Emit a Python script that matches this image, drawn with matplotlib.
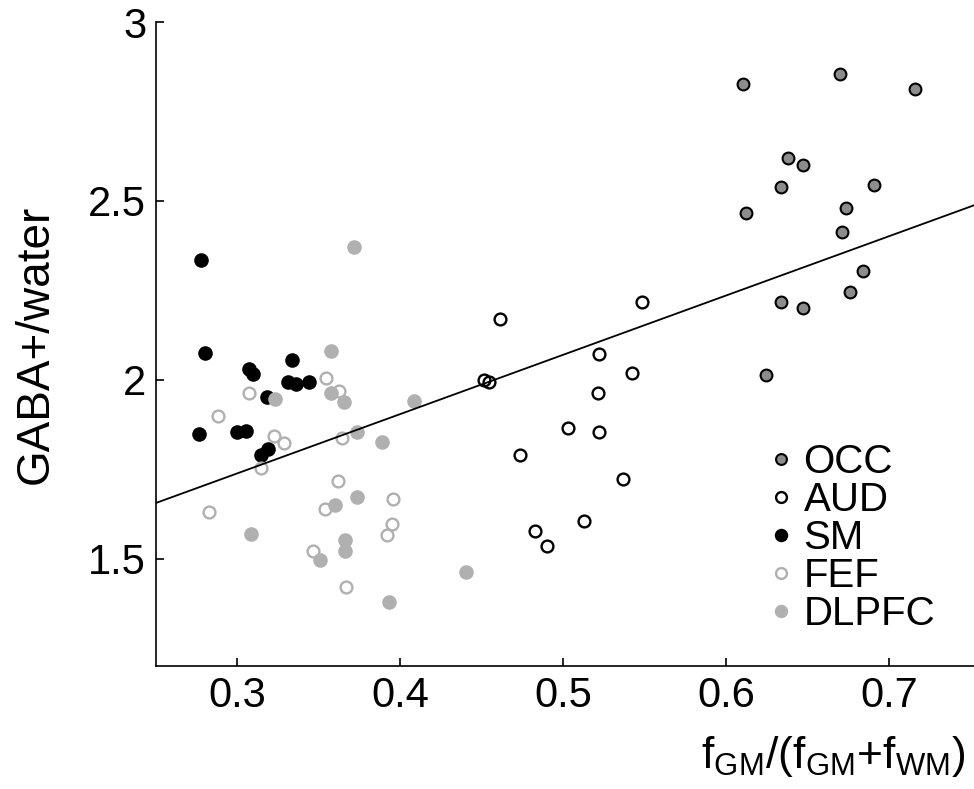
import numpy as np
import matplotlib
matplotlib.use("Agg")
import matplotlib.pyplot as plt

plt.rcParams['font.family'] = ['Liberation Sans', 'DejaVu Sans']
plt.rcParams['mathtext.fontset'] = 'custom'
plt.rcParams['mathtext.rm'] = 'Liberation Sans'
plt.rcParams['mathtext.it'] = 'Liberation Sans'

# gray matter fraction and GABA+/water per region
occ_x = [0.610, 0.670, 0.7155, 0.638, 0.647, 0.6337, 0.6905, 0.612, 0.6733,
         0.6712, 0.6837, 0.6337, 0.647, 0.6758, 0.6246]
occ_y = [2.828, 2.855, 2.814, 2.621, 2.600, 2.539, 2.544, 2.466, 2.481,
         2.413, 2.304, 2.217, 2.201, 2.244, 2.014]

aud_x = [0.5484, 0.5222, 0.5419, 0.5212, 0.4609, 0.4515, 0.4547, 0.5028,
         0.5222, 0.4733, 0.5369, 0.513, 0.4826, 0.4898]
aud_y = [2.217, 2.071, 2.020, 1.962, 2.170, 1.998, 1.994, 1.864,
         1.853, 1.791, 1.723, 1.604, 1.577, 1.536]

sm_x = [0.2778, 0.2801, 0.3069, 0.3099, 0.3336, 0.3308, 0.3359, 0.3439,
        0.3184, 0.2767, 0.2995, 0.3054, 0.3187, 0.3144]
sm_y = [2.336, 2.076, 2.031, 2.016, 2.056, 1.994, 1.988, 1.994,
        1.952, 1.847, 1.855, 1.858, 1.807, 1.789]

fef_x = [0.3541, 0.3622, 0.3072, 0.2882, 0.3224, 0.3289, 0.3641, 0.3144,
         0.2825, 0.362, 0.3537, 0.3953, 0.3948, 0.3921, 0.3462, 0.3666]
fef_y = [2.004, 1.968, 1.963, 1.899, 1.843, 1.822, 1.836, 1.754,
         1.630, 1.718, 1.640, 1.667, 1.596, 1.567, 1.521, 1.422]

dlpfc_x = [0.3718, 0.3576, 0.3234, 0.3574, 0.3654, 0.4086, 0.3734, 0.389,
           0.3598, 0.3733, 0.3083, 0.3663, 0.3663, 0.3506, 0.3933, 0.4401]
dlpfc_y = [2.372, 2.081, 1.946, 1.962, 1.937, 1.941, 1.853, 1.827,
           1.651, 1.671, 1.568, 1.552, 1.520, 1.495, 1.379, 1.463]

xticks = [0.3, 0.4, 0.5, 0.6, 0.7]
yticks = [1.5, 2, 2.5, 3]

fig = plt.figure(figsize=(9.74, 7.89), dpi=100)
ax = fig.add_axes([0.160, 0.156, 0.840, 0.816])

ax.plot(occ_x, occ_y, 'o', ms=8.5, mfc='#8c8c8c', mec='black', mew=1.5, label='OCC')
ax.plot(aud_x, aud_y, 'o', ms=8.5, mfc='none', mec='black', mew=1.7, label='AUD')
ax.plot(sm_x, sm_y, 'o', ms=10.5, mfc='black', mec='black', mew=0, label='SM')
ax.plot(fef_x, fef_y, 'o', ms=8.5, mfc='none', mec='#b0b0b0', mew=1.7, label='FEF')
ax.plot(dlpfc_x, dlpfc_y, 'o', ms=10.5, mfc='#b0b0b0', mec='#b0b0b0', mew=0, label='DLPFC')

# least squares line over all regions
all_x = np.concatenate([occ_x, aud_x, sm_x, fef_x, dlpfc_x])
all_y = np.concatenate([occ_y, aud_y, sm_y, fef_y, dlpfc_y])
k, b = np.polyfit(all_x, all_y, 1)
xl = np.array([0.25, 0.752])
ax.plot(xl, k * xl + b, color='black', lw=1.3, zorder=5)

ax.set_xlim(0.25, 0.752)
ax.set_ylim(1.2, 3)
ax.set_xticks(xticks)
ax.set_xticklabels(['0.3', '0.4', '0.5', '0.6', '0.7'])
ax.set_yticks(yticks)
ax.set_yticklabels(['1.5', '2', '2.5', '3'])
ax.spines['top'].set_visible(False)
ax.spines['right'].set_visible(False)
ax.spines['left'].set_linewidth(1.2)
ax.spines['bottom'].set_linewidth(1.2)
ax.tick_params(direction='in', length=6, width=1.2, labelsize=30, pad=7)

ax.set_ylabel('GABA+/water', fontsize=33, labelpad=22)
ax.set_xlabel(r'$\mathregular{f_{GM}/(f_{GM}{+}f_{WM})}$', fontsize=32)
ax.xaxis.label.set_ha('right')
ax.xaxis.set_label_coords(0.99, -0.105)

leg = ax.legend(loc='upper left', bbox_to_anchor=(0.74, 0.346), frameon=False,
                fontsize=29, handlelength=1.0, handletextpad=0.05,
                labelspacing=0.0, borderpad=0, borderaxespad=0, markerscale=0.92)

fig.savefig('out.png', dpi=100)
